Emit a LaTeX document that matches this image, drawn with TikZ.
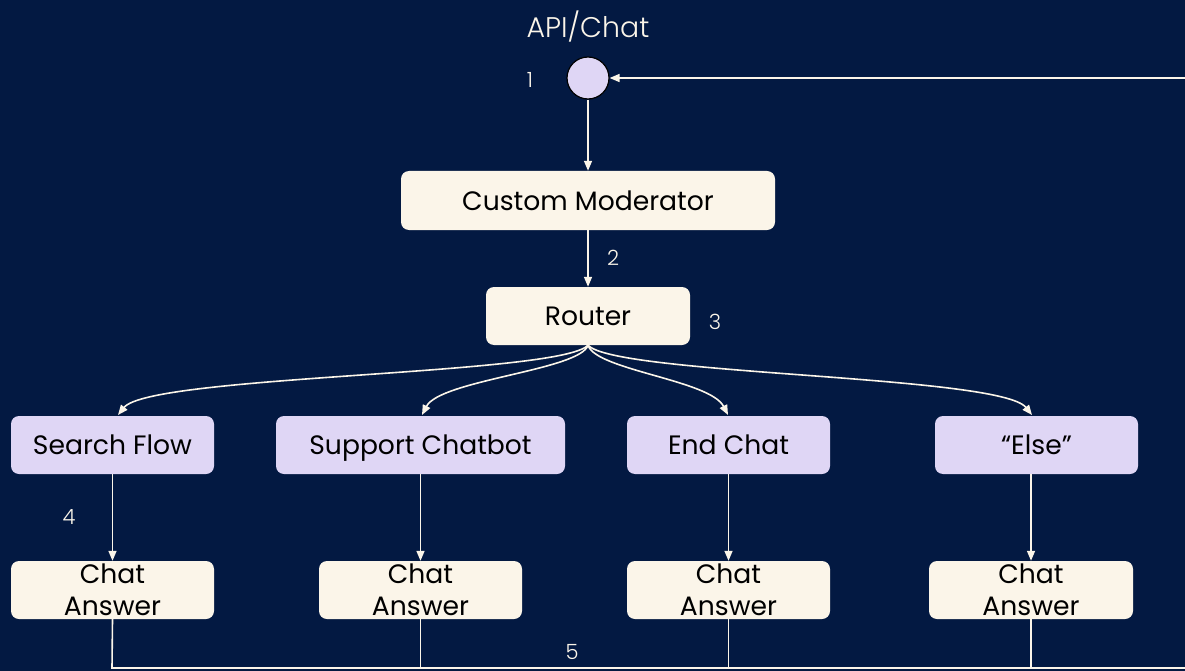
\documentclass[tikz,border=0pt]{standalone}
\usepackage{fontspec}
\setmainfont{Poppins}
\newfontfamily\poplight{Poppins Light}
\usetikzlibrary{arrows.meta}
\definecolor{bg}{HTML}{031942}
\definecolor{cream}{HTML}{FBF5E9}
\definecolor{lav}{HTML}{DFD6F5}
\begin{document}
\begin{tikzpicture}[x=1pt,y=-1pt,
  base/.style={rounded corners=8pt, inner sep=0pt, font=\fontsize{26.6}{32}\selectfont, text=black, align=center},
  creambox/.style={base, fill=cream},
  onebox/.style={base, fill=cream, text depth=0pt},
  lavbox/.style={base, fill=lav, text depth=0pt},
  lbl/.style={text=cream, font=\poplight\fontsize{21}{24}\selectfont},
  conn/.style={draw=cream, line width=1.6pt, -{Triangle[length=10pt,width=8pt]}, fill=none},
  plain/.style={draw=cream, line width=1.6pt}]
\useasboundingbox[fill=bg] (0,0) rectangle (1185,671);
% top
\node[lbl, font=\poplight\fontsize{28.4}{32}\selectfont] (api) at (588,27) {API/Chat};
\node[circle, fill=lav, draw=black, line width=1.2pt, minimum size=42pt, inner sep=0pt] (start) at (588,78) {};
\node[lbl] (n1) at (530,80) {1};
\node[onebox, minimum width=374, minimum height=59] (mod) at (588,200.5) {Custom Moderator};
\node[lbl] (n2) at (613,258) {2};
\node[onebox, minimum width=204, minimum height=58] (router) at (588,316) {Router};
\node[lbl] (n3) at (715,322) {3};
% branch boxes
\node[lavbox, minimum width=203, minimum height=58] (sf) at (112.5,445) {Search Flow};
\node[lavbox, minimum width=289, minimum height=58] (sc) at (420.5,445) {Support Chatbot};
\node[lavbox, minimum width=203, minimum height=58] (ec) at (728.5,445) {End Chat};
\node[lavbox, minimum width=203, minimum height=58] (el) at (1036.5,445) {“Else”};
% chat answers
\node[creambox, minimum width=203, minimum height=58] (ca1) at (112.5,590) {Chat\\Answer};
\node[creambox, minimum width=203, minimum height=58] (ca2) at (420.5,590) {Chat\\Answer};
\node[creambox, minimum width=203, minimum height=58] (ca3) at (728.5,590) {Chat\\Answer};
\node[creambox, minimum width=204, minimum height=58] (ca4) at (1031,590) {Chat\\Answer};
\node[lbl] (n4) at (69,517) {4};
\node[lbl] (n5) at (572,652) {5};
% loop coordinates
\coordinate (topR) at (1185,78);
\coordinate (botR) at (1185,668);
\coordinate (b1) at (112,668);
\coordinate (b2) at (420.5,668);
\coordinate (b3) at (728.5,668);
\coordinate (b4) at (1031,668);
\coordinate (t1) at (118,415);
\coordinate (t2) at (422,415);
\coordinate (t3) at (728,415);
\coordinate (t4) at (1032,415);
% connectors
\draw[conn] (start.south) -- (mod.north);
\draw[conn] (mod.south) -- (router.north);
\draw[conn] (router.south) .. controls +(-28,30) and (150,375) .. (t1);
\draw[conn] (router.south) .. controls +(-8,25) and (440,380) .. (t2);
\draw[conn] (router.south) .. controls +(8,25) and (710,380) .. (t3);
\draw[conn] (router.south) .. controls +(28,30) and (1000,375) .. (t4);
\draw[conn] (sf.south -| ca1) -- (ca1.north);
\draw[conn] (sc.south -| ca2) -- (ca2.north);
\draw[conn] (ec.south -| ca3) -- (ca3.north);
\draw[conn] (el.south -| ca4) -- (ca4.north);
\draw[plain] (ca1.south) -- (b1) -- (botR);
\draw[plain] (ca2.south) -- (b2);
\draw[plain] (ca3.south) -- (b3);
\draw[plain] (ca4.south) -- (b4);
\draw[conn] (topR) -- (start.east);
\end{tikzpicture}
\end{document}
